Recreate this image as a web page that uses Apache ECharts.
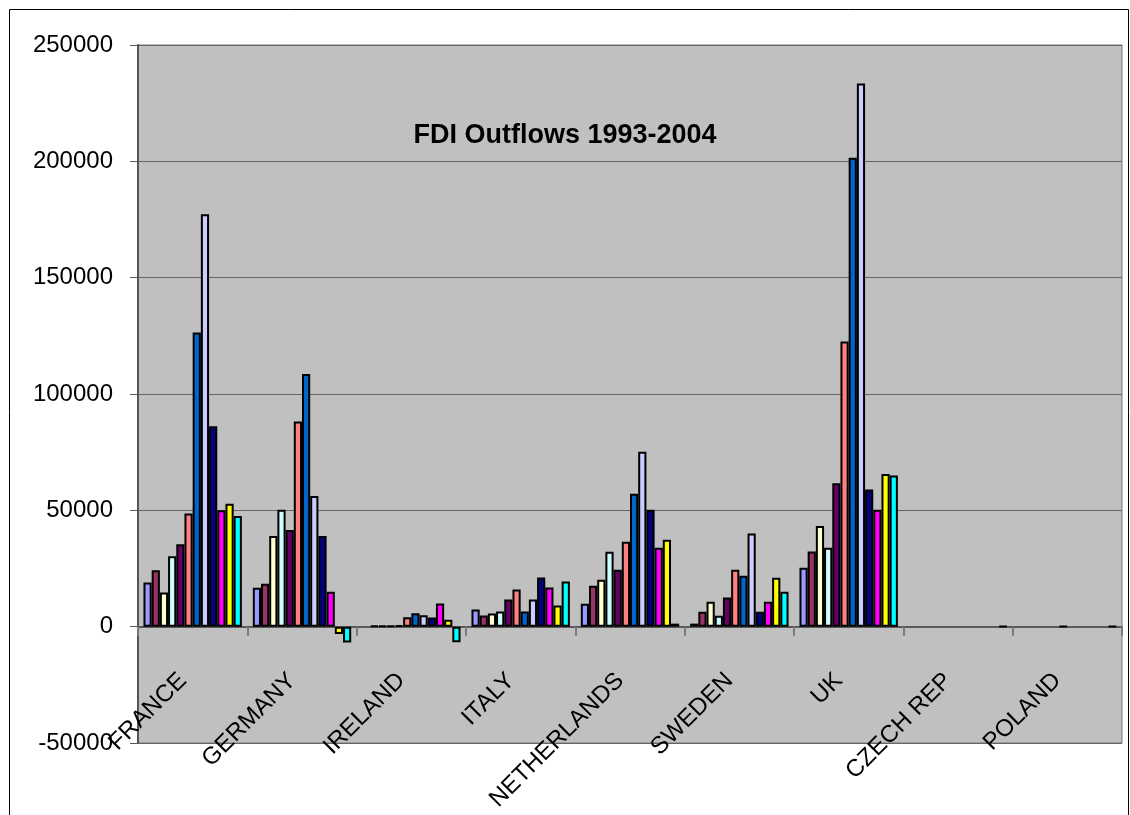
<!DOCTYPE html>
<html>
<head>
<meta charset="utf-8">
<title>FDI Outflows 1993-2004</title>
<script src="https://cdn.jsdelivr.net/npm/echarts@6/dist/echarts.min.js"></script>
<style>
  html, body { margin: 0; padding: 0; background: #ffffff; }
  #chart { width: 1130px; height: 815px; }
</style>
</head>
<body>
<div id="chart"></div>
<script>
// Countries on the category axis
const countries = ['FRANCE', 'GERMANY', 'IRELAND', 'ITALY', 'NETHERLANDS', 'SWEDEN', 'UK', 'CZECH REP', 'POLAND'];

// Outflows per year, one value per country (null = no figure)
const y1993 = [19000, 16700, null, 7400, 9900, 1300, 25300, null, null];
const y1994 = [24300, 18400, 400, 4800, 17600, 6400, 32300, null, null];
const y1995 = [14700, 39000, 300, 5700, 20200, 10700, 43300, null, null];
const y1996 = [30300, 50200, 400, 6500, 32200, 4700, 33900, null, null];
const y1997 = [35400, 41500, 500, 11700, 24500, 12500, 61600, null, null];
const y1998 = [48600, 88200, 4000, 16000, 36500, 24500, 122600, null, 200];
const y1999 = [126400, 108600, 5800, 6500, 57100, 21900, 201500, null, null];
const y2000 = [177300, 56200, 4900, 11700, 75200, 40000, 233400, null, null];
const y2001 = [86100, 39000, 3900, 21100, 50300, 6400, 59000, null, null];
const y2002 = [50000, 15000, 10000, 16800, 33900, 10700, 50200, null, null];
const y2003 = [52800, -3200, 3000, 9100, 37400, 21000, 65600, null, null];
const y2004 = [47600, -6800, -6700, 19400, 1300, 15000, 65000, 200, 200];

const years = ['1993', '1994', '1995', '1996', '1997', '1998', '1999', '2000', '2001', '2002', '2003', '2004'];
const yearValues = [y1993, y1994, y1995, y1996, y1997, y1998, y1999, y2000, y2001, y2002, y2003, y2004];

// Classic spreadsheet fill palette, one colour per year
const palette = ['#9999FF', '#993366', '#FFFFCC', '#CCFFFF', '#660066', '#FF8080',
                 '#0066CC', '#CCCCFF', '#000080', '#FF00FF', '#FFFF00', '#00FFFF'];

const font = '"Liberation Sans", Arial, sans-serif';

const series = years.map((yr, i) => ({
  name: yr,
  type: 'bar',
  data: yearValues[i],
  barGap: '0%',
  barCategoryGap: '10%',
  itemStyle: { color: palette[i], borderColor: '#000000', borderWidth: 2 },
  emphasis: { disabled: true }
}));

const chart = echarts.init(document.getElementById('chart'), null, { renderer: 'canvas' });
chart.setOption({
  animation: false,
  backgroundColor: '#ffffff',
  title: {
    text: 'FDI Outflows 1993-2004',
    left: 'center',
    top: 117,
    textStyle: { fontFamily: font, fontSize: 27, fontWeight: 'bold', color: '#000000' }
  },
  grid: {
    left: 138, right: 8, top: 45, bottom: 72,
    containLabel: false,
    outerBoundsMode: 'none',
    show: true,
    backgroundColor: '#C0C0C0',
    borderColor: '#777777',
    borderWidth: 1
  },
  xAxis: {
    type: 'category',
    data: countries,
    axisLine: { onZero: true, lineStyle: { color: '#5a5a5a', width: 2 } },
    axisTick: { show: true, length: 9, lineStyle: { color: '#7a7a7a', width: 2 } },
    axisLabel: {
      rotate: 45,
      // labels hang just under the zero line, inside the plot
      margin: -76,
      padding: [0, 14, 0, 0],
      interval: 0,
      fontFamily: font,
      fontSize: 24,
      color: '#000000'
    },
    splitLine: { show: false }
  },
  yAxis: {
    type: 'value',
    min: -50000,
    max: 250000,
    interval: 50000,
    axisLine: { show: true, lineStyle: { color: '#555555', width: 2 } },
    axisTick: { show: true, length: 8, lineStyle: { color: '#555555', width: 1 } },
    axisLabel: {
      margin: 25, fontFamily: font, fontSize: 24, color: '#000000',
      formatter: (v) => String(v)
    },
    splitLine: { show: true, lineStyle: { color: '#666666', width: 1 } }
  },
  graphic: [{
    type: 'rect',
    silent: true,
    shape: { x: 9.5, y: 9.5, width: 1119, height: 900 },
    style: { fill: 'none', stroke: '#000000', lineWidth: 1 }
  }],
  series: series
});
</script>
</body>
</html>
